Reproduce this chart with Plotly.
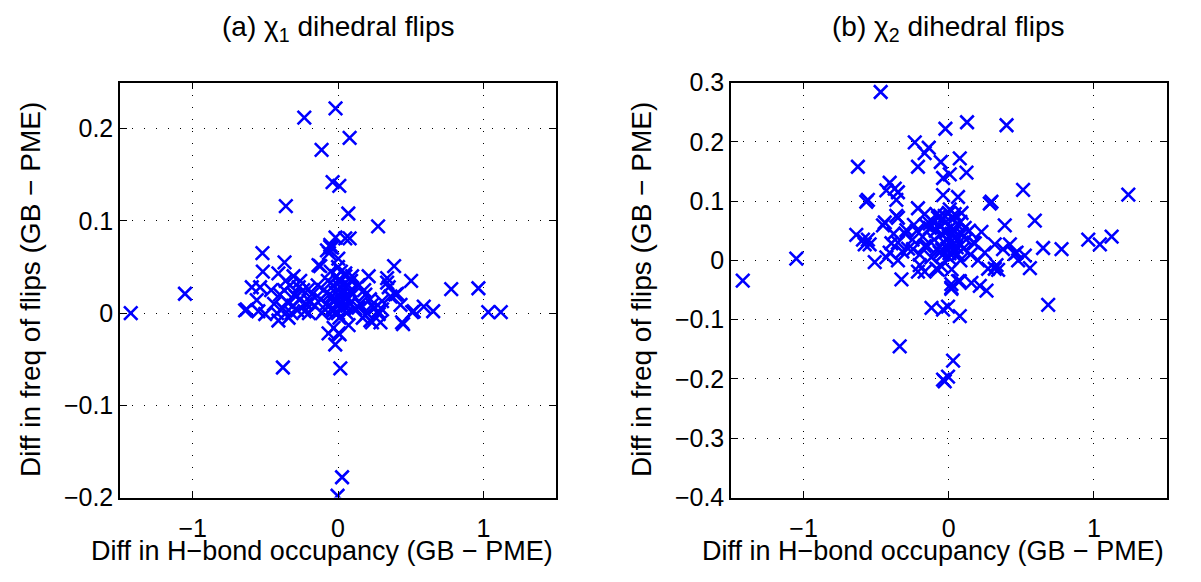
import plotly.graph_objects as go

# ---------------- data: panel (a) chi1 dihedral flips ----------------
a_x = [-0.232, -0.017, 0.080, -0.113, -0.037, 0.009, -0.359, 0.071, 0.276,
       -1.426, -1.053, -0.520, -0.368, -0.517, -0.017, 0.080, -0.053, -0.062,
       0.002, -0.122, 0.386, 0.211, 0.503, 0.779, 0.966, 1.034, 1.120, 0.655,
       0.590, 0.521, 0.448, 0.361, 0.407, 0.338, 0.274, 0.292, 0.223, -0.639,
       -0.548, -0.593, -0.559, -0.030, 0.011, -0.019, 0.073, -0.379, 0.016,
       -0.536, -0.628, -0.501, -0.410, -0.306, -0.260, -0.203, -0.134, -0.076,
       -0.053, 0.050, -0.041, 0.338, 0.349, 0.395, 0.430, 0.510, 0.441, 0.280,
       0.234, 0.142, 0.188, 0.142, 0.097, 0.050, 0.004, -0.065, 0.234, 0.303,
       0.303, 0.028, -0.003,
       -0.08, -0.06, -0.04, -0.03, -0.02, -0.01, 0.00, 0.00, 0.01, 0.02, 0.03,
       0.04, 0.05, 0.06, 0.07, 0.08, 0.10, 0.12, -0.05, 0.00, 0.02, -0.02,
       0.01, 0.03, -0.07, 0.05, -0.10, 0.09, -0.03, 0.015, 0.04, -0.015, 0.06,
       0.00, -0.045, 0.025, -0.035, 0.065, 0.085, -0.09,
       -0.44, -0.42, -0.40, -0.38, -0.37, -0.35, -0.34, -0.33, -0.31, -0.30,
       -0.28, -0.26, -0.24, -0.22, -0.20, -0.18, -0.16, -0.14, -0.12, -0.11,
       -0.46, -0.41, -0.36, -0.32, -0.27, -0.19, -0.23, -0.29,
       0.15, 0.18, 0.20, 0.22, 0.25, 0.14, 0.17]
a_y = [0.212, 0.222, 0.190, 0.177, 0.142, 0.138, 0.116, 0.108, 0.094,
       0.000, 0.021, 0.065, 0.055, 0.045, 0.082, 0.081, 0.072, 0.065,
       0.059, 0.051, 0.051, 0.040, 0.035, 0.026, 0.027, 0.001, 0.001, 0.002,
       0.007, 0.002, -0.012, 0.018, 0.021, 0.033, 0.002, -0.010, -0.008, 0.003,
       0.002, 0.028, 0.014, -0.016, -0.023, -0.034, -0.013, -0.059, -0.060,
       0.028, 0.004, -0.001, 0.043, 0.040, 0.035, 0.026, 0.052, 0.068,
       0.074, 0.081, 0.071, 0.038, 0.028, 0.020, 0.009, 0.001, -0.010, -0.001,
       -0.010, 0.006, 0.020, 0.030, 0.040, 0.043, -0.022, -0.022, 0.009, 0.004,
       0.013, -0.178, -0.198,
       0.010, 0.020, 0.005, 0.030, 0.015, 0.040, 0.000, 0.020, 0.010, 0.035,
       0.005, 0.025, 0.015, 0.000, 0.030, 0.010, 0.020, 0.005, 0.045, 0.050,
       0.045, 0.000, -0.005, 0.020, 0.035, 0.040, 0.025, 0.035, 0.012, 0.028,
       0.008, 0.022, 0.018, 0.035, 0.018, 0.012, 0.002, 0.008, 0.024, 0.004,
       0.010, 0.000, 0.020, 0.005, 0.025, 0.012, -0.005, 0.030, 0.008, 0.020,
       0.003, 0.015, 0.025, 0.010, 0.000, 0.020, 0.008, 0.030, 0.015, 0.000,
       0.025, -0.008, 0.035, 0.000, 0.028, 0.012, 0.002, 0.018,
       0.010, 0.025, 0.000, 0.015, 0.005, 0.030, -0.005]

# ---------------- data: panel (b) chi2 dihedral flips ----------------
b_x = [-0.469, -0.023, 0.126, 0.398, -0.234, -0.138, -0.166, -0.055, 0.076,
       -0.212, -0.626, -0.039, 0.007, 0.122, -0.407, -0.372, -0.350, -0.430,
       0.512, 1.237, -0.557, -0.568, -0.361, -0.039, 0.064, 0.283, 0.294,
       -0.212, -0.166, 0.007, 0.041, 0.088, 0.386, 0.593, -0.350, -0.441,
       -0.074, -0.028,
       -1.419, -1.050, -0.637, -0.557, -0.579, -0.510, -0.326, -0.430, -0.350,
       -0.212, -0.166, -0.074, 0.018, 0.018, 0.076, 0.156, 0.214, 0.260,
       0.317, 0.340, 0.650, 0.777, 0.961, 1.041, 1.122, 0.317, 0.374, 0.455,
       0.478, 0.524, 0.559, 0.202, 0.248, 0.179, 0.685, -0.119, -0.039, 0.076,
       -0.338, 0.030, -0.005, -0.039, -0.028,
       -0.361, -0.453, -0.591, -0.545, -0.292, -0.246, -0.407, -0.395, -0.200,
       -0.166, -0.085, -0.062, -0.131, -0.085, 0.225, 0.421, 0.467, 0.329,
       0.271, 0.064, 0.018, -0.005,
       -0.35, -0.30, -0.28, -0.25, -0.22, -0.20, -0.18, -0.15, -0.13, -0.12,
       -0.10, -0.08, -0.07, -0.05, -0.04, -0.03, -0.02, -0.01, 0.00, 0.00,
       0.01, 0.02, 0.03, 0.04, 0.05, 0.06, 0.07, 0.08, 0.09, 0.10, 0.12, 0.14,
       0.15, 0.17, -0.06, 0.00, 0.02, -0.02, 0.04, -0.09, -0.16, -0.24, -0.32,
       -0.38, 0.06, -0.05, 0.02, -0.11, 0.08, 0.11, -0.015, 0.035, -0.045,
       0.005, 0.055]
b_y = [0.284, 0.222, 0.233, 0.228, 0.199, 0.190, 0.181, 0.166, 0.172,
       0.158, 0.158, 0.139, 0.145, 0.148, 0.131, 0.121, 0.115, 0.118,
       0.119, 0.111, 0.102, 0.099, 0.102, 0.110, 0.107, 0.096, 0.099,
       0.088, 0.078, 0.086, 0.078, 0.080, 0.059, 0.067, 0.072, 0.064,
       0.072, 0.075,
       -0.034, 0.003, 0.043, 0.035, 0.027, -0.003, -0.032, 0.005, 0.000,
       -0.019, -0.019, -0.016, -0.040, -0.048, -0.035, -0.038, -0.043, -0.051,
       -0.014, -0.016, 0.021, 0.019, 0.035, 0.027, 0.040, 0.027, 0.019, 0.011,
       0.000, 0.008, -0.013, 0.000, 0.013, 0.029, -0.075, -0.080, -0.083, -0.094,
       -0.145, -0.169, -0.196, -0.201, -0.204,
       0.075, 0.059, 0.035, 0.027, 0.051, 0.019, 0.013, 0.029, -0.008,
       0.024, -0.014, 0.013, 0.062, 0.078, 0.048, 0.027, 0.013, -0.008,
       -0.014, -0.035, -0.046, -0.078,
       0.030, 0.045, 0.020, 0.035, 0.050, 0.010, 0.040, 0.025, 0.055, 0.005,
       0.035, 0.020, 0.060, 0.045, 0.010, 0.030, 0.065, 0.020, 0.040, 0.005,
       0.055, 0.025, 0.070, 0.015, 0.040, 0.060, 0.030, 0.000, 0.045, 0.020,
       0.035, 0.050, 0.010, 0.030, 0.075, 0.080, 0.045, 0.050, 0.050, 0.050,
       0.060, 0.060, 0.015, 0.045, 0.010, -0.010, -0.015, 0.065, 0.065, 0.055,
       0.035, 0.028, 0.018, 0.012, 0.022]

x_ticks = [-1, 0, 1]
x_ticktext = ["\u22121", "0", "1"]
a_yticks = [-0.2, -0.1, 0, 0.1, 0.2]
a_yticktext = ["\u22120.2", "\u22120.1", "0", "0.1", "0.2"]
b_yticks = [-0.4, -0.3, -0.2, -0.1, 0, 0.1, 0.2, 0.3]
b_yticktext = ["\u22120.4", "\u22120.3", "\u22120.2", "\u22120.1", "0", "0.1", "0.2", "0.3"]

titles = ["(a) \u03c7<sub>1</sub> dihedral flips", "(b) \u03c7<sub>2</sub> dihedral flips"]
x_title = "Diff in H\u2212bond occupancy (GB \u2212 PME)"
y_title = "Diff in freq of flips (GB \u2212 PME)"

W, H = 1201, 582
FONT = "Liberation Sans, Arial, sans-serif"
BLUE = "#0000FF"

fig = go.Figure()
marker = dict(symbol="x-thin", size=13.5, color=BLUE, line=dict(color=BLUE, width=2.6))
fig.add_trace(go.Scatter(x=a_x, y=a_y, mode="markers", marker=marker,
                         xaxis="x", yaxis="y", showlegend=False))
fig.add_trace(go.Scatter(x=b_x, y=b_y, mode="markers", marker=marker,
                         xaxis="x2", yaxis="y2", showlegend=False))

dom_a = [120 / W, 556 / W]
dom_b = [731 / W, 1166.5 / W]
dom_y = [1 - 508 / H, 1 - 72 / H]

common = dict(showline=True, linecolor="black", linewidth=1.5, mirror="ticks",
              ticks="inside", ticklen=7, tickwidth=1, tickcolor="black",
              showgrid=True, gridcolor="black", gridwidth=1, griddash="1px,11px",
              zeroline=False, tickfont=dict(family=FONT, size=25, color="black"))

fig.update_layout(
    width=W, height=H, margin=dict(l=0, r=0, t=0, b=0),
    paper_bgcolor="white", plot_bgcolor="white",
    xaxis=dict(domain=dom_a, range=[-1.5, 1.5], tickvals=x_ticks, ticktext=x_ticktext,
               anchor="y", ticklabelstandoff=8, **common),
    yaxis=dict(domain=dom_y, range=[-0.2, 0.25], tickvals=a_yticks, ticktext=a_yticktext,
               anchor="x", **common),
    xaxis2=dict(domain=dom_b, range=[-1.5, 1.5], tickvals=x_ticks, ticktext=x_ticktext,
                anchor="y2", ticklabelstandoff=8, **common),
    yaxis2=dict(domain=dom_y, range=[-0.4, 0.3], tickvals=b_yticks, ticktext=b_yticktext,
                anchor="x2", **common),
)

ann = []
for i, dom in enumerate([dom_a, dom_b]):
    cx = (dom[0] + dom[1]) / 2
    ann.append(dict(text=titles[i], x=cx, y=1 - 15 / H, xref="paper", yref="paper",
                    showarrow=False, xanchor="center", yanchor="middle",
                    font=dict(family=FONT, size=28, color="black")))
    ann.append(dict(text=x_title, x=cx - 16 / W, y=1 - 564 / H, xref="paper", yref="paper",
                    showarrow=False, xanchor="center", yanchor="middle",
                    font=dict(family=FONT, size=27, color="black")))
    yx = [30, 641][i]
    ann.append(dict(text=y_title, x=yx / W, y=(dom_y[0] + dom_y[1]) / 2, xref="paper",
                    yref="paper", showarrow=False, xanchor="center", yanchor="middle",
                    textangle=-90, font=dict(family=FONT, size=28, color="black")))
fig.update_layout(annotations=ann)

fig.write_html("out.html")
